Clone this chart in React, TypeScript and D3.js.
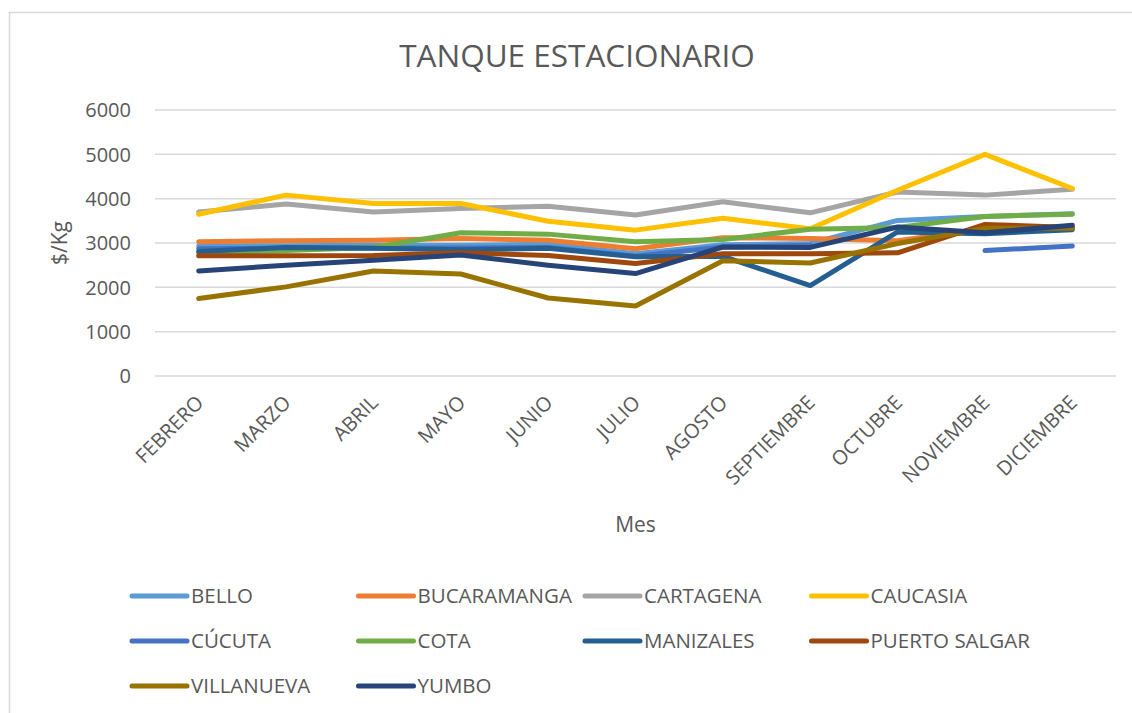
import React, { useRef, useEffect } from 'react';
import * as d3 from 'd3';

const months = [
  'FEBRERO', 'MARZO', 'ABRIL', 'MAYO', 'JUNIO', 'JULIO',
  'AGOSTO', 'SEPTIEMBRE', 'OCTUBRE', 'NOVIEMBRE', 'DICIEMBRE',
];

const bello = [2930, 2940, 2950, 2950, 2970, 2760, 2960, 2990, 3510, 3600, 3660];
const bucaramanga = [3030, 3050, 3060, 3100, 3060, 2870, 3120, 3100, 3050, 3330, 3360];
const cartagena = [3700, 3880, 3700, 3780, 3830, 3630, 3930, 3680, 4150, 4080, 4210];
const caucasia = [3650, 4080, 3890, 3890, 3490, 3290, 3560, 3320, 4190, 5000, 4230];
const cucuta = [2870, 2880, 2890, 2890, 2900, 2700, 2910, 2950, null, 2830, 2930];
const cota = [2780, 2830, 2900, 3230, 3200, 3030, 3080, 3310, 3350, 3600, 3650];
const manizales = [2810, 2900, 2880, 2850, 2880, 2690, 2700, 2040, 3250, 3210, 3300];
const puertoSalgar = [2710, 2710, 2720, 2780, 2720, 2540, 2760, 2760, 2780, 3420, 3350];
const villanueva = [1750, 2010, 2370, 2300, 1760, 1580, 2600, 2550, 2990, 3330, 3330];
const yumbo = [2370, 2500, 2610, 2730, 2500, 2310, 2910, 2900, 3360, 3230, 3400];

const yTicks = [0, 1000, 2000, 3000, 4000, 5000, 6000];

const series = [
  { name: 'BELLO', values: bello, color: '#5B9BD5' },
  { name: 'BUCARAMANGA', values: bucaramanga, color: '#ED7D31' },
  { name: 'CARTAGENA', values: cartagena, color: '#A5A5A5' },
  { name: 'CAUCASIA', values: caucasia, color: '#FFC000' },
  { name: 'CÚCUTA', values: cucuta, color: '#4472C4' },
  { name: 'COTA', values: cota, color: '#70AD47' },
  { name: 'MANIZALES', values: manizales, color: '#255E91' },
  { name: 'PUERTO SALGAR', values: puertoSalgar, color: '#9E480E' },
  { name: 'VILLANUEVA', values: villanueva, color: '#997300' },
  { name: 'YUMBO', values: yumbo, color: '#264478' },
];

const W = 1132;
const H = 713;
const FONT = '"Open Sans", sans-serif';
const TEXT = '#595959';

export default function App() {
  const svgRef = useRef<SVGSVGElement>(null);

  useEffect(() => {
    const svg = d3.select(svgRef.current);
    svg.selectAll('*').remove();

    const left = 155, right = 1116, top = 110, bottom = 376;

    const x = d3.scaleBand<string>().domain(months).range([left, right]);
    const xc = (m: string) => (x(m) as number) + x.bandwidth() / 2;
    const y = d3.scaleLinear().domain([0, 6000]).range([bottom, top]);

    // marco del gráfico
    svg.append('rect')
      .attr('x', 9.5).attr('y', 12.5)
      .attr('width', W + 20).attr('height', H + 20)
      .attr('fill', 'none').attr('stroke', '#d9d9d9').attr('stroke-width', 1.5);

    // título
    svg.append('text')
      .attr('x', 577).attr('y', 67)
      .attr('text-anchor', 'middle')
      .attr('font-family', FONT).attr('font-size', 31.5)
      .attr('fill', TEXT)
      .text('TANQUE ESTACIONARIO');

    // rejilla y etiquetas Y
    const yAxis = svg.append('g');
    yTicks.forEach((t) => {
      yAxis.append('line')
        .attr('x1', left).attr('x2', right)
        .attr('y1', y(t)).attr('y2', y(t))
        .attr('stroke', '#d9d9d9').attr('stroke-width', 1.5);
      yAxis.append('text')
        .attr('x', 131).attr('y', y(t))
        .attr('dy', '0.36em')
        .attr('text-anchor', 'end')
        .attr('font-family', FONT).attr('font-size', 20)
        .attr('fill', TEXT)
        .text(String(t));
    });

    // etiquetas X
    months.forEach((m) => {
      const px = xc(m) + 1;
      const py = 399;
      svg.append('text')
        .attr('transform', `translate(${px},${py}) rotate(-45)`)
        .attr('text-anchor', 'end')
        .attr('dy', '0.35em')
        .attr('font-family', FONT).attr('font-size', 20)
        .attr('fill', TEXT)
        .text(m);
    });

    // títulos de ejes
    svg.append('text')
      .attr('x', (left + right) / 2).attr('y', 532)
      .attr('text-anchor', 'middle')
      .attr('font-family', FONT).attr('font-size', 21)
      .attr('fill', TEXT)
      .text('Mes');

    svg.append('text')
      .attr('transform', `translate(67,${(top + bottom) / 2}) rotate(-90)`)
      .attr('text-anchor', 'middle')
      .attr('font-family', FONT).attr('font-size', 21)
      .attr('fill', TEXT)
      .text('$/Kg');

    // líneas
    const line = d3.line<number | null>()
      .defined((d) => d != null)
      .x((_, i) => xc(months[i]))
      .y((d) => y(d as number));

    series.forEach((s) => {
      svg.append('path')
        .datum(s.values)
        .attr('fill', 'none')
        .attr('stroke', s.color)
        .attr('stroke-width', 5)
        .attr('stroke-linejoin', 'round')
        .attr('stroke-linecap', 'round')
        .attr('d', line);
    });

    // leyenda
    const legend = svg.append('g');
    series.forEach((s, i) => {
      const col = i % 4;
      const row = Math.floor(i / 4);
      const lx = 132 + col * 226.5;
      const ly = 596 + row * 45;
      legend.append('line')
        .attr('x1', lx).attr('x2', lx + 55)
        .attr('y1', ly).attr('y2', ly)
        .attr('stroke', s.color).attr('stroke-width', 5)
        .attr('stroke-linecap', 'round');
      legend.append('text')
        .attr('x', lx + 59).attr('y', ly)
        .attr('dy', '0.36em')
        .attr('font-family', FONT).attr('font-size', 20.5)
        .attr('fill', TEXT)
        .text(s.name);
    });
  }, []);

  return (
    <div style={{ position: 'absolute', left: 0, top: 0 }}>
      <svg ref={svgRef} width={W} height={H} style={{ display: 'block', background: '#fff' }} />
    </div>
  );
}
